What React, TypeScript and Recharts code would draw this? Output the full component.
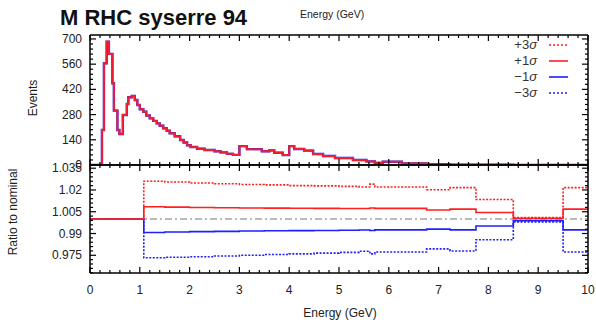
import React from 'react';
import { LineChart, Line, XAxis, YAxis, ReferenceLine } from 'recharts';

// top panel: histogram bin low edges (GeV) and event counts
const eventEdges = [
  0, 0.24, 0.28, 0.335, 0.38, 0.45, 0.48, 0.55, 0.59, 0.66, 0.74, 0.77, 0.84, 0.9, 0.95,
  1.0, 1.07, 1.13, 1.2, 1.27, 1.34, 1.4, 1.47, 1.54, 1.6, 1.7, 1.81, 1.88, 1.95, 2.02,
  2.15, 2.3, 2.5, 2.62, 2.75, 2.87, 3.0, 3.15, 3.45, 3.6, 3.7, 3.87, 4.0, 4.1, 4.3,
  4.48, 4.68, 4.92, 5.28, 5.55, 5.72, 5.88, 6.26, 6.76, 7.23, 8.5, 10,
];
const eventCounts = [
  0, 194, 565, 685, 617, 454, 302, 194, 172, 278, 339, 376, 383, 361, 333,
  310, 296, 275, 259, 245, 231, 218, 204, 190, 176, 160, 139, 125, 110, 100,
  90, 83, 76, 70, 62, 56, 105, 88, 76, 81, 68, 55, 105, 89, 80,
  61, 50, 39, 28, 20, 12, 18, 9, 4, 2, 0, 0,
];

// bottom panel: ratio bins and the four variations
const ratioEdges = [0, 1.08, 1.5, 2, 2.5, 3, 3.5, 4, 4.5, 5, 5.4, 5.62, 5.72, 6.76, 7.23, 7.75, 8.5, 9.5, 10];
const ratioPlus3 = [1.0, 1.026, 1.0255, 1.0248, 1.0243, 1.0238, 1.0235, 1.023, 1.0228, 1.0225, 1.022, 1.024, 1.022, 1.0202, 1.0216, 1.0134, 1.001, 1.0216, 1.0216];
const ratioPlus1 = [1.0, 1.0084, 1.0082, 1.0079, 1.0077, 1.0076, 1.0075, 1.0074, 1.0073, 1.0072, 1.0072, 1.0076, 1.0073, 1.0062, 1.0068, 1.0045, 1.0005, 1.0068, 1.0068];
const ratioMinus1 = [1.0, 0.9907, 0.991, 0.9913, 0.9915, 0.9917, 0.9919, 0.992, 0.9921, 0.9922, 0.9924, 0.9921, 0.9925, 0.993, 0.9925, 0.9952, 0.9989, 0.9925, 0.9925];
const ratioMinus3 = [1.0, 0.9733, 0.9737, 0.974, 0.9745, 0.975, 0.9755, 0.976, 0.9765, 0.977, 0.9778, 0.976, 0.9773, 0.9794, 0.978, 0.9857, 0.998, 0.9773, 0.9773];

const xTickLabels = ['0', '1', '2', '3', '4', '5', '6', '7', '8', '9', '10'];
const eventTicks = [0, 140, 280, 420, 560, 700];
const ratioTicks = [0.975, 0.99, 1.005, 1.02, 1.035];

const RED = '#ff1f1f';
const BLUE = '#1f1fff';
const FONT = "'Liberation Sans', Arial, sans-serif";

const legendItems = [
  { sign: '+3', color: RED, dash: '2 2' },
  { sign: '+1', color: RED, dash: undefined },
  { sign: '\u22121', color: BLUE, dash: undefined },
  { sign: '\u22123', color: BLUE, dash: '2 2' },
];

const eventRows = eventEdges.map((e, i) => ({ e, n: eventCounts[i] }));
const ratioRows = ratioEdges.map((e, i) => ({
  e, p3: ratioPlus3[i], p1: ratioPlus1[i], m1: ratioMinus1[i], m3: ratioMinus3[i],
}));

// minor tick positions
const xAll = Array.from({ length: 51 }, (_, i) => Math.round(i * 2) / 10);
const eventAll = Array.from({ length: 26 }, (_, i) => i * 28);
const ratioAll = Array.from({ length: 25 }, (_, i) => Math.round((0.963 + i * 0.003) * 1000) / 1000);

const isXMajor = (v: number) => Math.abs(v - Math.round(v)) < 1e-6;
const isEvMajor = (v: number) => eventTicks.includes(v);
const isRatioMajor = (v: number) => ratioTicks.some(t => Math.abs(t - v) < 1e-6);

const XTick = ({ x, y, payload, dir, labels }: any) => {
  const major = isXMajor(payload.value);
  const len = major ? 6 : 3;
  return (
    <g>
      <line x1={x} x2={x} y1={y} y2={y + dir * len} stroke="#000" strokeWidth={1.2} />
      {labels && major && (
        <text x={x} y={y + 21} textAnchor="middle" fontSize={12} fontFamily={FONT} fill="#222">
          {xTickLabels[Math.round(payload.value)]}
        </text>
      )}
    </g>
  );
};

const YTick = ({ x, y, payload, dir, labels, isMajor, fmt }: any) => {
  const major = isMajor(payload.value);
  const len = major ? 6 : 3;
  return (
    <g>
      <line x1={x} x2={x + dir * len} y1={y} y2={y} stroke="#000" strokeWidth={1.2} />
      {labels && major && (
        <text x={x - 8} y={y + 4} textAnchor="end" fontSize={12} fontFamily={FONT} fill="#222">
          {fmt(payload.value)}
        </text>
      )}
    </g>
  );
};

const axisLine = { stroke: '#000', strokeWidth: 1.5 };

export default function App() {
  return (
    <div style={{ position: 'fixed', left: 0, top: 0, width: 596, height: 322, background: '#fff' }}>
      {/* Top panel */}
      <div style={{ position: 'absolute', left: 0, top: 0 }}>
        <LineChart width={596} height={200} data={eventRows} margin={{ top: 34, right: 7, bottom: 34, left: 40 }}>
          <XAxis dataKey="e" type="number" domain={[0, 10]} allowDataOverflow ticks={xAll} interval={0}
            height={1} tickSize={0} tickMargin={0} tickLine={false} axisLine={axisLine}
            tick={(p: any) => <XTick {...p} dir={-1} labels={false} />} />
          <XAxis xAxisId="t" orientation="top" dataKey="e" type="number" domain={[0, 10]} allowDataOverflow ticks={xAll} interval={0}
            height={1} tickSize={0} tickMargin={0} tickLine={false} axisLine={axisLine}
            tick={(p: any) => <XTick {...p} dir={1} labels={false} />} />
          <YAxis type="number" domain={[0, 722]} allowDataOverflow ticks={eventAll} interval={0}
            width={50} tickSize={0} tickMargin={0} tickLine={false} axisLine={axisLine}
            tick={(p: any) => <YTick {...p} dir={1} labels isMajor={isEvMajor} fmt={(v: number) => String(v)} />} />
          <YAxis yAxisId="r" orientation="right" type="number" domain={[0, 722]} allowDataOverflow ticks={eventAll} interval={0}
            width={1} tickSize={0} tickMargin={0} tickLine={false} axisLine={axisLine}
            tick={(p: any) => <YTick {...p} dir={-1} labels={false} isMajor={isEvMajor} fmt={String} />} />
          <Line type="stepAfter" dataKey="n" stroke={BLUE} strokeWidth={2.4} dot={false} activeDot={false} isAnimationActive={false} />
          <Line type="stepAfter" dataKey="n" stroke={RED} strokeOpacity={0.93} strokeWidth={2} dot={false} activeDot={false} isAnimationActive={false} />
        </LineChart>
      </div>

      {/* Ratio panel */}
      <div style={{ position: 'absolute', left: 0, top: 130 }}>
        <LineChart width={596} height={192} data={ratioRows} margin={{ top: 34, right: 7, bottom: 19, left: 40 }}>
          <XAxis dataKey="e" type="number" domain={[0, 10]} allowDataOverflow ticks={xAll} interval={0}
            height={30} tickSize={0} tickMargin={0} tickLine={false} axisLine={axisLine}
            tick={(p: any) => <XTick {...p} dir={-1} labels />} />
          <XAxis xAxisId="t" orientation="top" dataKey="e" type="number" domain={[0, 10]} allowDataOverflow ticks={xAll} interval={0}
            height={1} tickSize={0} tickMargin={0} tickLine={false} axisLine={axisLine}
            tick={(p: any) => <XTick {...p} dir={1} labels={false} />} />
          <YAxis type="number" domain={[0.9628, 1.0372]} allowDataOverflow ticks={ratioAll} interval={0}
            width={50} tickSize={0} tickMargin={0} tickLine={false} axisLine={axisLine}
            tick={(p: any) => <YTick {...p} dir={1} labels isMajor={isRatioMajor} fmt={(v: number) => String(v)} />} />
          <YAxis yAxisId="r" orientation="right" type="number" domain={[0.9628, 1.0372]} allowDataOverflow ticks={ratioAll} interval={0}
            width={1} tickSize={0} tickMargin={0} tickLine={false} axisLine={axisLine}
            tick={(p: any) => <YTick {...p} dir={-1} labels={false} isMajor={isRatioMajor} fmt={String} />} />
          <ReferenceLine y={1} stroke="#777" strokeWidth={1.2} strokeDasharray="7 3 2 3" />
          <Line type="stepAfter" dataKey="m3" stroke={BLUE} strokeWidth={1.6} strokeDasharray="2 1.5" dot={false} activeDot={false} isAnimationActive={false} />
          <Line type="stepAfter" dataKey="m1" stroke={BLUE} strokeWidth={1.6} dot={false} activeDot={false} isAnimationActive={false} />
          <Line type="stepAfter" dataKey="p3" stroke={RED} strokeWidth={1.6} strokeDasharray="2 1.5" dot={false} activeDot={false} isAnimationActive={false} />
          <Line type="stepAfter" dataKey="p1" stroke={RED} strokeWidth={1.6} dot={false} activeDot={false} isAnimationActive={false} />
        </LineChart>
      </div>

      {/* titles, axis names, legend */}
      <svg width={596} height={322} style={{ position: 'absolute', left: 0, top: 0, pointerEvents: 'none' }}>
        <text x={60} y={25} fontSize={22} fontWeight="bold" fontFamily={FONT} fill="#111">M RHC syserre 94</text>
        <text x={300} y={18} fontSize={10.5} fontFamily={FONT} fill="#222">Energy (GeV)</text>
        <text x={340} y={317} textAnchor="middle" fontSize={12} fontFamily={FONT} fill="#222">Energy (GeV)</text>
        <text transform="translate(37,98) rotate(-90)" textAnchor="middle" fontSize={12} fontFamily={FONT} fill="#222">Events</text>
        <text transform="translate(17,212) rotate(-90)" textAnchor="middle" fontSize={12} fontFamily={FONT} fill="#222">Ratio to nominal</text>
        {legendItems.map((it, i) => {
          const cy = 45 + i * 16;
          return (
            <g key={i}>
              <text x={537} y={cy + 4} textAnchor="end" fontSize={13} fontFamily={FONT} fill="#333">
                {it.sign}<tspan fontStyle="italic">σ</tspan>
              </text>
              <line x1={549} x2={568} y1={cy} y2={cy} stroke={it.color} strokeWidth={1.6} strokeDasharray={it.dash} />
            </g>
          );
        })}
      </svg>
    </div>
  );
}
